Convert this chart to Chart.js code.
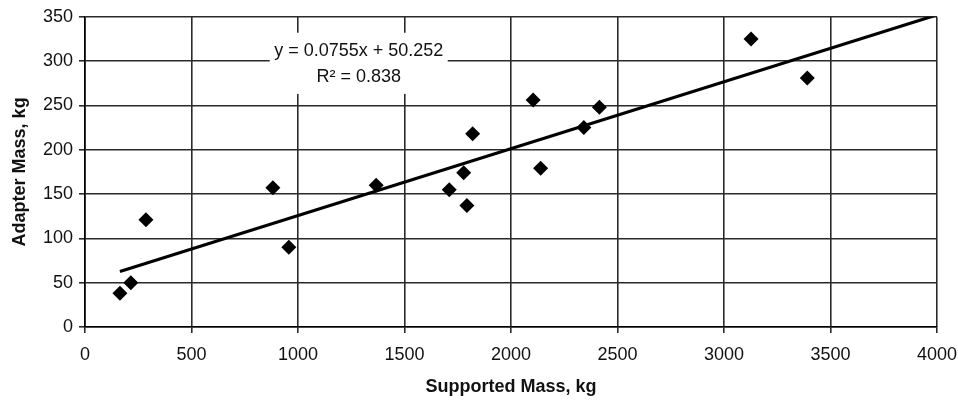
<!DOCTYPE html>
<html>
<head>
<meta charset="utf-8">
<title>Adapter Mass vs Supported Mass</title>
<script src="https://cdn.jsdelivr.net/npm/chart.js@4"></script>
<style>
    html, body { margin: 0; padding: 0; background: #fff; }
    #wrap { width: 958px; height: 400px; position: relative; }
</style>
</head>
<body>
<div id="wrap"><canvas id="massChart"></canvas></div>
<script>
// data
const supportedMass = [164, 215, 286, 882, 957, 1367, 1710, 1778, 1793, 1820, 2104, 2139, 2342, 2415, 3127, 3391];
const adapterMass   = [38, 50, 121, 157, 90, 160, 155, 174, 137, 218, 256, 179, 225, 248, 325, 281];

// trend line as printed on the chart
const slope = 0.0755;
const intercept = 50.252;
const trendX = [164, 4000];
const equationLines = ['y = 0.0755x + 50.252', 'R\u00b2 = 0.838'];

const xTicks = [0, 500, 1000, 1500, 2000, 2500, 3000, 3500, 4000];
const yTicks = [0, 50, 100, 150, 200, 250, 300, 350];

const FONT = '"Liberation Sans", Arial, sans-serif';
const GRID = '#2a2a2a';

const points = supportedMass.map((x, i) => ({ x: x, y: adapterMass[i] }));
const trend = trendX.map(x => ({ x: x, y: slope * x + intercept }));

// white box with the regression equation
const equationLabel = {
    id: 'equationLabel',
    beforeDatasetsDraw(chart) {
        const ctx = chart.ctx;
        const xs = chart.scales.x, ys = chart.scales.y;
        const cx = xs.getPixelForValue(1285);
        const top = ys.getPixelForValue(332);
        const bottom = ys.getPixelForValue(263);
        ctx.save();
        ctx.fillStyle = '#fff';
        ctx.fillRect(cx - 89, top, 178, bottom - top);
        ctx.fillStyle = '#111';
        ctx.font = '18px ' + FONT;
        ctx.textAlign = 'center';
        ctx.textBaseline = 'middle';
        ctx.fillText(equationLines[0], cx, ys.getPixelForValue(311));
        ctx.fillText(equationLines[1], cx, ys.getPixelForValue(282));
        ctx.restore();
    }
};

new Chart(document.getElementById('massChart'), {
    type: 'scatter',
    data: {
        datasets: [{
            label: 'Adapter Mass',
            data: points,
            pointStyle: 'rectRot',
            pointRadius: 7.5,
            backgroundColor: '#000',
            borderColor: '#000',
            borderWidth: 0
        }, {
            type: 'line',
            label: 'Trend',
            data: trend,
            borderColor: '#000',
            borderWidth: 3,
            pointRadius: 0,
            fill: false
        }]
    },
    options: {
        responsive: true,
        maintainAspectRatio: false,
        animation: false,
        layout: { padding: { top: 15, right: 21, left: 0, bottom: 0 } },
        plugins: {
            legend: { display: false },
            tooltip: { enabled: false }
        },
        scales: {
            x: {
                type: 'linear',
                min: 0,
                max: 4000,
                afterFit: s => {
                    s.height = 73;
                    s.paddingLeft = 0;
                    s.paddingRight = 0;
                },
                afterBuildTicks: s => { s.ticks = xTicks.map(v => ({ value: v })); },
                grid: { color: GRID, lineWidth: 1.6, tickLength: 6, tickColor: GRID },
                border: { color: '#000', width: 1.6 },
                ticks: {
                    color: '#111',
                    font: { family: FONT, size: 18 },
                    padding: 11,
                    maxRotation: 0,
                    callback: v => String(v)
                },
                title: {
                    display: true,
                    text: 'Supported Mass, kg',
                    color: '#111',
                    font: { family: FONT, size: 18, weight: 'bold' },
                    padding: { top: 0, bottom: 2 }
                }
            },
            y: {
                min: 0,
                max: 350,
                afterFit: s => { s.width = 85; },
                afterBuildTicks: s => { s.ticks = yTicks.map(v => ({ value: v })); },
                grid: { color: GRID, lineWidth: 1.6, tickLength: 6, tickColor: GRID },
                border: { color: '#000', width: 1.6 },
                ticks: {
                    color: '#111',
                    font: { family: FONT, size: 18 },
                    padding: 6,
                    callback: v => String(v)
                },
                title: {
                    display: true,
                    text: 'Adapter Mass, kg',
                    color: '#111',
                    font: { family: FONT, size: 18, weight: 'bold' },
                    padding: { top: 9, bottom: 0 }
                }
            }
        }
    },
    plugins: [equationLabel]
});
</script>
</body>
</html>
